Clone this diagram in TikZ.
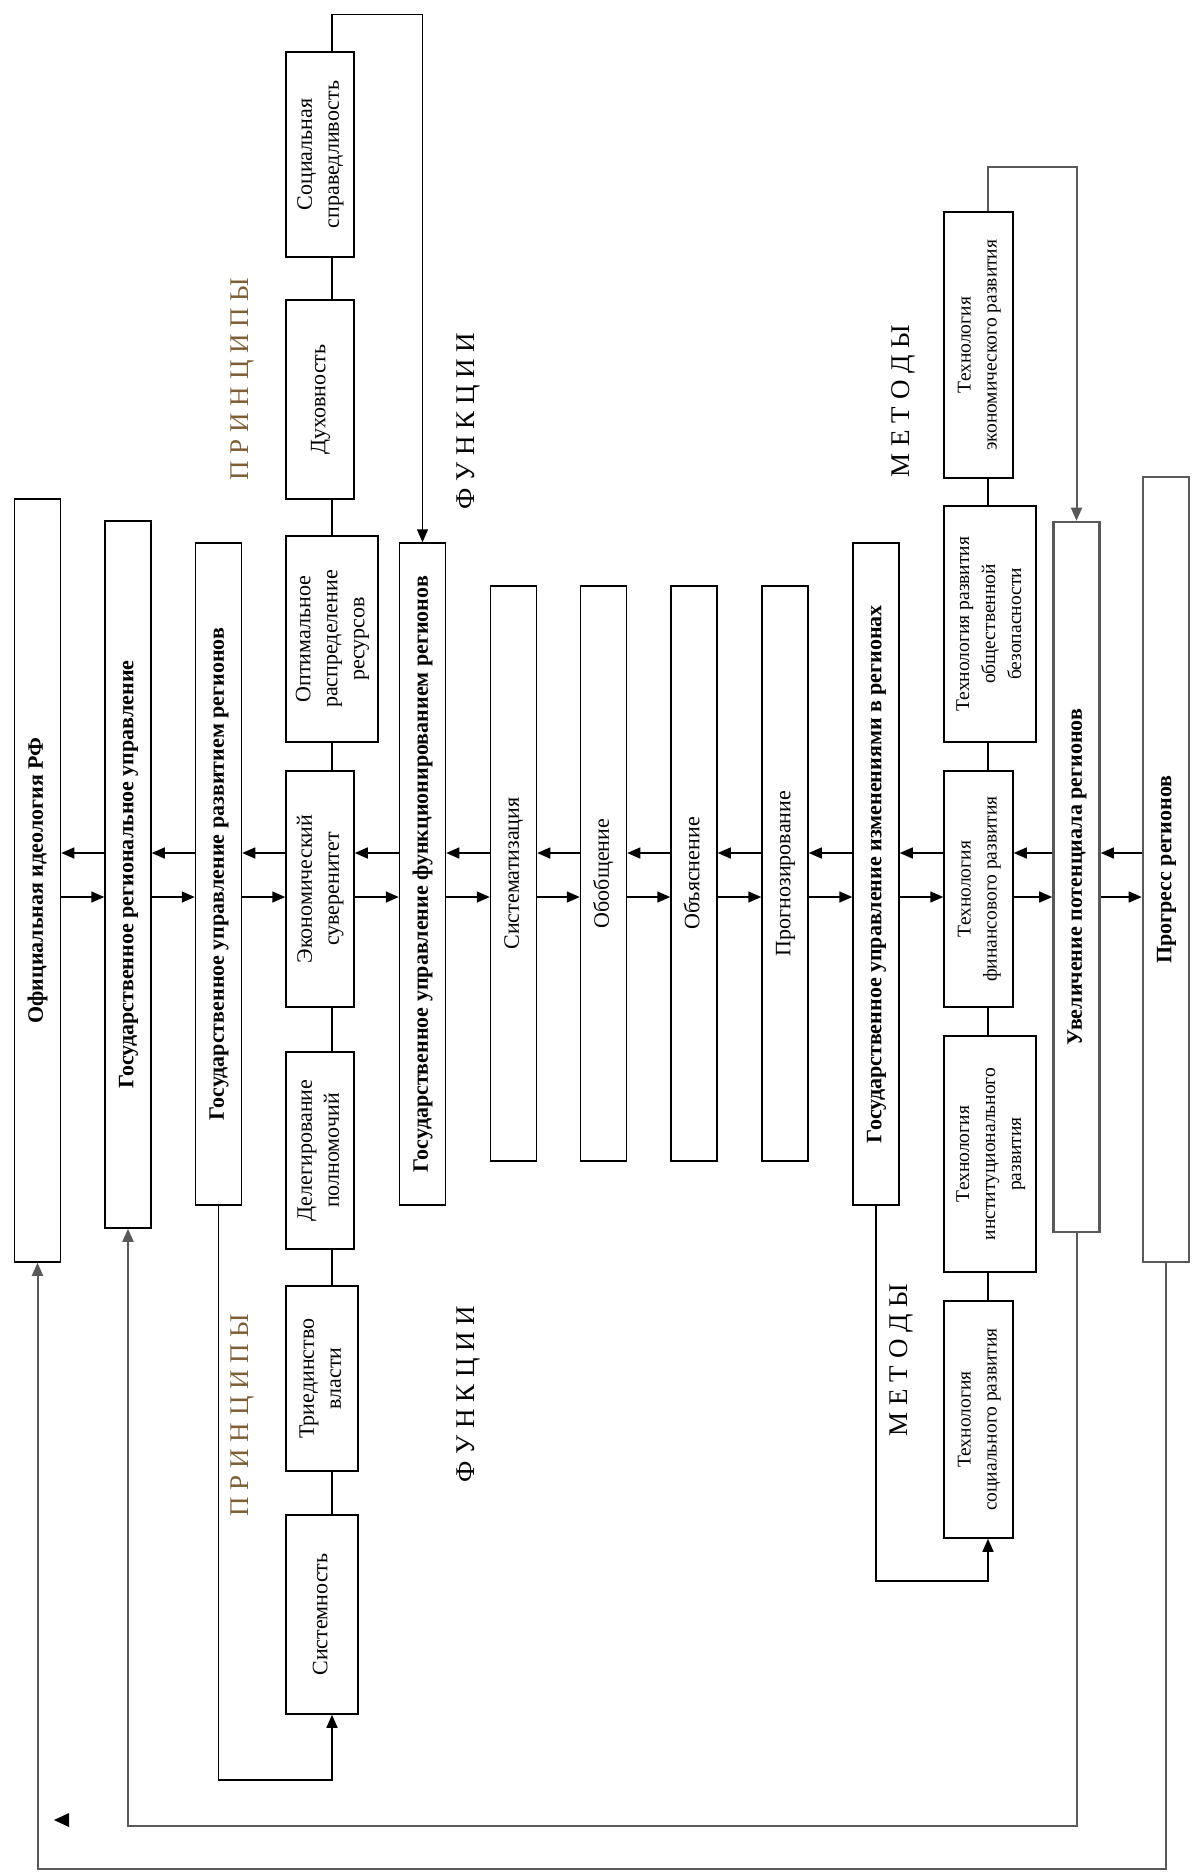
\documentclass[tikz,border=0pt]{standalone}
\usepackage{fontspec}
\setmainfont{Liberation Serif}
\usetikzlibrary{arrows.meta}
\definecolor{princcol}{RGB}{125,95,55}
\newcommand{\vlab}[1]{\rotatebox{90}{\begin{tabular}{@{}c@{}}#1\end{tabular}}}

\begin{document}
\begin{tikzpicture}[x=1pt, y=-1pt,
    box/.style={draw, rectangle, line width=1.5pt, inner sep=0pt, font=\fontsize{22}{27}\selectfont},
    colbox/.style={box, minimum width=46pt, font=\fontsize{22}{27}\selectfont\bfseries},
    funcbox/.style={box, minimum width=46pt, minimum height=575pt},
    greybox/.style={colbox, draw=black!65, line width=2.6pt},
    princbox/.style={box, minimum width=68pt},
    methbox/.style={box, minimum width=69pt, minimum height=236pt, font=\fontsize{19.5}{26}\selectfont},
    lbl/.style={inner sep=0pt, font=\fontsize{27}{30}\selectfont},
    line/.style={line width=1.5pt},
    arr/.style={line width=1.5pt, -{Triangle[length=13pt, width=11pt]}},
    greyarr/.style={arr, draw=black!65, line width=2pt}]
  \useasboundingbox (0,0) rectangle (1194,1875);

  \coordinate (pl) at (332,0);
  \coordinate (ml) at (988,0);
  \coordinate (rowL) at (0,853);
  \coordinate (rowR) at (0,897);
  \coordinate (topL) at (0,14.5);
  \coordinate (topR) at (0,167);
  \coordinate (botA) at (0,1780);
  \coordinate (botB) at (0,1581);
  \coordinate (botC) at (0,1826);
  \coordinate (botD) at (0,1869);

  \node[colbox, minimum height=763pt] (ideol) at (37.5,880.5) {\vlab{Официальная идеология РФ}};
  \node[colbox, minimum height=707pt] (regupr) at (128,874.5) {\vlab{Государственное региональное управление}};
  \node[colbox, minimum height=662pt] (razv) at (218.5,874) {\vlab{Государственное управление развитием регионов}};
  \node[colbox, minimum height=662pt] (funk) at (422.5,874) {\vlab{Государственное управление функционированием регионов}};
  \node[funcbox] (sist) at (513.5,873.5) {\vlab{Систематизация}};
  \node[funcbox] (obob) at (603.5,873.5) {\vlab{Обобщение}};
  \node[funcbox] (obyas) at (694,873.5) {\vlab{Объяснение}};
  \node[funcbox] (prog) at (785,873.5) {\vlab{Прогнозирование}};
  \node[colbox, minimum height=662pt] (izm) at (876,874) {\vlab{Государственное управление изменениями в регионах}};
  \node[greybox, minimum height=710pt] (uvel) at (1076.5,877) {\vlab{Увеличение потенциала регионов}};
  \node[greybox, minimum height=785pt] (progress) at (1166,869.5) {\vlab{Прогресс регионов}};

  \node[princbox, minimum height=205pt] (soc) at (320,154.5) {\vlab{Социальная\\справедливость}};
  \node[princbox, minimum height=199pt] (duh) at (320,399.5) {\vlab{Духовность}};
  \node[princbox, minimum width=92pt, minimum height=206pt] (opt) at (332,639) {\vlab{Оптимальное\\распределение\\ресурсов}};
  \node[princbox, minimum height=236pt] (econ) at (320,889) {\vlab{Экономический\\суверенитет}};
  \node[princbox, minimum height=197pt] (deleg) at (320,1150.5) {\vlab{Делегирование\\полномочий}};
  \node[princbox, minimum width=72pt, minimum height=185pt] (tri) at (322,1378.5) {\vlab{Триединство\\власти}};
  \node[princbox, minimum width=72pt, minimum height=199pt] (sys) at (322,1614.5) {\vlab{Системность}};

  \node[methbox, minimum height=266pt] (tecon) at (978.5,345) {\vlab{Технология\\экономического развития}};
  \node[methbox, minimum width=92pt] (tbez) at (990,624) {\vlab{Технология развития\\общественной\\безопасности}};
  \node[methbox] (tfin) at (978.5,889) {\vlab{Технология\\финансового развития}};
  \node[methbox, minimum width=92pt] (tinst) at (990,1154) {\vlab{Технология\\институционального\\развития}};
  \node[methbox, minimum height=237pt] (tsoc) at (978.5,1419.5) {\vlab{Технология\\социального развития}};

  \node[lbl, text=princcol] (princA) at (243,379) {\rotatebox{90}{П Р И Н Ц И П Ы}};
  \node[lbl, text=princcol] (princB) at (243,1415) {\rotatebox{90}{П Р И Н Ц И П Ы}};
  \node[lbl] (funcA) at (469,421) {\rotatebox{90}{Ф У Н К Ц И И}};
  \node[lbl] (funcB) at (469,1394) {\rotatebox{90}{Ф У Н К Ц И И}};
  \node[lbl] (methA) at (903,401) {\rotatebox{90}{М Е Т О Д Ы}};
  \node[lbl] (methB) at (901,1360) {\rotatebox{90}{М Е Т О Д Ы}};

  \foreach \a/\b in {ideol/regupr, regupr/razv, razv/econ, econ/funk, funk/sist, sist/obob, obob/obyas, obyas/prog, prog/izm, izm/tfin, tfin/uvel, uvel/progress} {
    \draw[arr] (\b.west |- rowL) -- (\a.east |- rowL);
    \draw[arr] (\a.east |- rowR) -- (\b.west |- rowR);
  }
  \foreach \a/\b in {soc/duh, duh/opt, opt/econ, econ/deleg, deleg/tri, tri/sys} {
    \draw[line] (\a.south -| pl) -- (\b.north -| pl);
  }
  \foreach \a/\b in {tecon/tbez, tbez/tfin, tfin/tinst, tinst/tsoc} {
    \draw[line] (\a.south -| ml) -- (\b.north -| ml);
  }

  \draw[arr] (soc.north -| pl) |- (topL -| funk.north) -- (funk.north);
  \draw[greyarr] (tecon.north -| ml) |- (topR -| uvel.north) -- (uvel.north);
  \draw[arr] (razv.south) |- (pl |- botA) -- (sys.south -| pl);
  \draw[arr] (izm.south) |- (ml |- botB) -- (tsoc.south -| ml);
  \draw[greyarr] (uvel.south) |- (regupr.south |- botC) -- (regupr.south);
  \draw[greyarr] (progress.south) |- (ideol.south |- botD) -- (ideol.south);

  \fill (54,1820) -- (69,1813) -- (69,1827) -- cycle;
\end{tikzpicture}
\end{document}
